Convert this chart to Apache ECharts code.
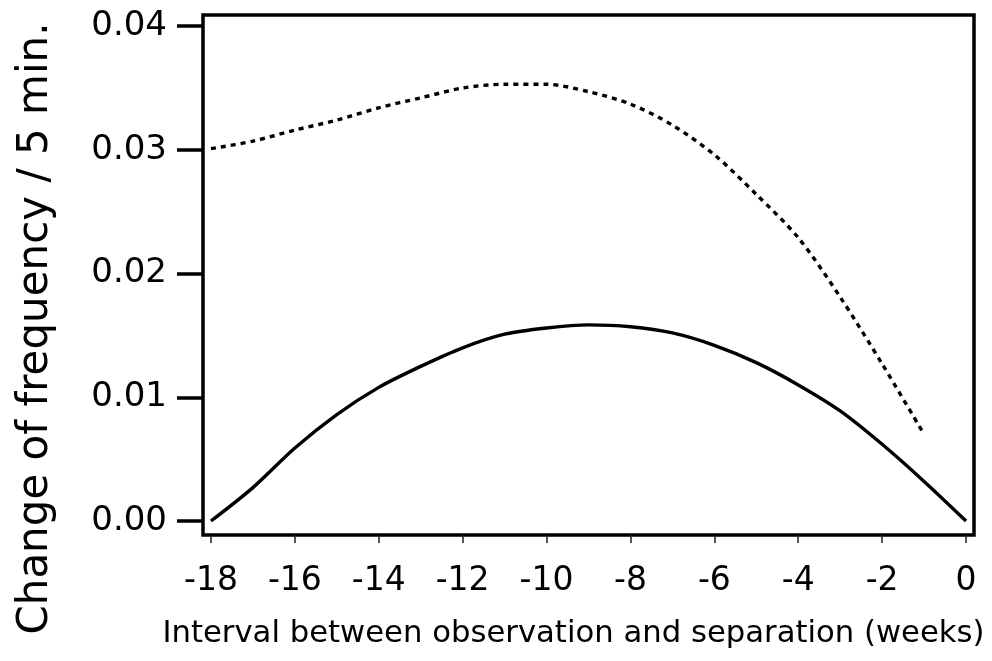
<!DOCTYPE html>
<html>
<head>
<meta charset="utf-8">
<script src="https://cdn.jsdelivr.net/npm/echarts@6/dist/echarts.min.js"></script>
<style>
  html, body { margin: 0; padding: 0; background: #fff; }
  #chart { width: 992px; height: 661px; }
</style>
</head>
<body>
<div id="chart"></div>
<script>
// Weeks before separation
const weeksSolid = [-18, -17, -16, -15, -14, -13, -12, -11, -10, -9, -8, -7, -6, -5, -4, -3, -2, -1, 0];
const changeSolid = [0, 0.0027, 0.0059, 0.0086, 0.0108, 0.0125, 0.0140, 0.0151, 0.0156, 0.01585, 0.0157, 0.0152, 0.0142, 0.0128, 0.0110, 0.0089, 0.0062, 0.0032, 0];

const weeksDashed = [-18, -17, -16, -15, -14, -13, -12, -11, -10, -9, -8, -7, -6, -5, -4, -3, -2, -1];
const changeDashed = [0.0301, 0.0307, 0.0316, 0.0324, 0.0334, 0.0342, 0.0350, 0.0353, 0.0353, 0.0347, 0.0337, 0.0320, 0.0296, 0.0264, 0.0229, 0.0181, 0.0127, 0.0070];

const xTicks = [-18, -16, -14, -12, -10, -8, -6, -4, -2, 0];
const yTicks = [0, 0.01, 0.02, 0.03, 0.04];

const xTitle = 'Interval between observation and separation (weeks)';
const yTitle = 'Change of frequency / 5 min.';

const pairs = (xs, ys) => xs.map((x, i) => [x, ys[i]]);
const FONT = 'DejaVu Sans';

const chart = echarts.init(document.getElementById('chart'), null, { renderer: 'canvas' });
chart.setOption({
  animation: false,
  backgroundColor: '#ffffff',
  grid: {
    left: 203, right: 18, top: 15, bottom: 126,
    outerBoundsMode: 'none',
    containLabel: false,
    show: true, borderColor: '#000', borderWidth: 3.5, backgroundColor: 'transparent'
  },
  xAxis: {
    type: 'value',
    min: -18.19, max: 0.19,
    splitLine: { show: false },
    axisLine: { show: false, onZero: false },
    axisTick: { show: true, customValues: xTicks, length: 8, inside: false,
      lineStyle: { color: '#222', width: 1.5 } },
    axisLabel: { customValues: xTicks, margin: 30, color: '#000',
      fontFamily: FONT, fontSize: 33, formatter: v => String(v) },
    name: xTitle,
    nameLocation: 'middle',
    nameGap: 84,
    nameTextStyle: { fontFamily: FONT, fontSize: 30.7, color: '#000', padding: [0, 30, 0, 0] }
  },
  yAxis: {
    type: 'value',
    min: -0.00113, max: 0.0409,
    splitLine: { show: false },
    axisLine: { show: false, onZero: false },
    axisTick: { show: true, customValues: yTicks, length: 26, inside: false,
      lineStyle: { color: '#000', width: 3.5 } },
    axisLabel: { customValues: yTicks, margin: 36, color: '#000',
      fontFamily: FONT, fontSize: 34, formatter: v => v.toFixed(2) },
    name: yTitle,
    nameLocation: 'middle',
    nameRotate: 90,
    nameGap: 146,
    nameTextStyle: { fontFamily: FONT, fontSize: 42, color: '#000', padding: [0, 107, 0, 0] }
  },
  series: [
    {
      name: 'solid',
      type: 'line',
      data: pairs(weeksSolid, changeSolid),
      smooth: 0.3,
      symbol: 'none',
      lineStyle: { color: '#000', width: 3.4 }
    },
    {
      name: 'dashed',
      type: 'line',
      data: pairs(weeksDashed, changeDashed),
      smooth: 0.3,
      symbol: 'none',
      lineStyle: { color: '#000', width: 3.4, type: [5, 5] }
    }
  ]
});
</script>
</body>
</html>
